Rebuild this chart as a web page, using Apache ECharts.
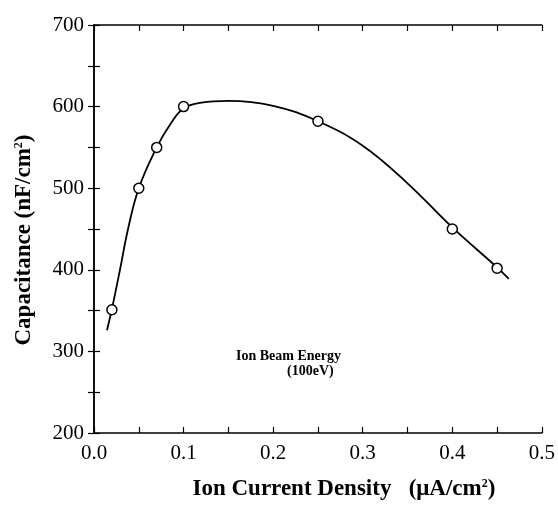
<!DOCTYPE html>
<html>
<head>
<meta charset="utf-8">
<script src="https://cdn.jsdelivr.net/npm/echarts@6/dist/echarts.min.js"></script>
<style>
  html, body { margin: 0; padding: 0; background: #fff; }
  #chartmain { width: 558px; height: 506px; }
</style>
</head>
<body>
<div id="chartmain"></div>
<script>
// measured points (open circles)
var density = [0.02, 0.05, 0.07, 0.1, 0.25, 0.4, 0.45];
var capacitance = [351, 500, 550, 600, 582, 450, 402];

// fitted curve
var fitX = [0.0145, 0.02, 0.029, 0.038, 0.05, 0.07, 0.085, 0.1, 0.12, 0.15, 0.2, 0.25, 0.3, 0.35, 0.4, 0.45, 0.463];
var fitY = [326, 352, 400, 450, 500, 550, 578, 598, 605, 607, 601, 582, 552, 506, 452, 403, 389];

var xTicks = ['0.0', '0.1', '0.2', '0.3', '0.4', '0.5'];
var yTicks = ['200', '300', '400', '500', '600', '700'];

var points = density.map(function (x, i) { return [x, capacitance[i]]; });
var curve = fitX.map(function (x, i) { return [x, fitY[i]]; });

var serif = '"Liberation Serif", "DejaVu Serif", serif';

var myChart = echarts.init(document.getElementById("chartmain"));

var baseAxis = {
    axisLine: { show: true, lineStyle: { color: '#000', width: 1.5 } },
    axisTick: { show: true, inside: true, length: 6, lineStyle: { color: '#000', width: 1.2 } },
    splitLine: { show: false }
};

// label only every other tick (ticks every 0.05 / 50)
function xLabel(v) {
    var k = Math.round(v * 20);
    return k % 2 === 0 ? xTicks[k / 2] : '';
}
function yLabel(v) {
    var k = Math.round((v - 200) / 50);
    return k % 2 === 0 ? yTicks[k / 2] : '';
}

var supStyle = { fontSize: 12, fontWeight: 'bold', fontFamily: serif, verticalAlign: 'top', padding: [0, 0, 9, 0] };

var option = {
    animation: false,
    grid: { left: 94, right: 16, top: 25, bottom: 69 },
    xAxis: [
        Object.assign({}, baseAxis, {
            type: 'value', min: 0, max: 0.5, interval: 0.05, position: 'bottom',
            axisLabel: {
                color: '#000', fontFamily: serif, fontSize: 21, margin: 10,
                formatter: xLabel
            },
            name: 'Ion Current Density   (μA/cm{sup|2})',
            nameLocation: 'middle', nameGap: 45,
            nameTextStyle: {
                color: '#000', fontFamily: serif, fontSize: 23, fontWeight: 'bold',
                padding: [0, 0, 0, 52],
                rich: { sup: supStyle }
            }
        }),
        Object.assign({}, baseAxis, {
            type: 'value', min: 0, max: 0.5, interval: 0.05, position: 'top',
            axisLabel: { show: false }
        })
    ],
    yAxis: [
        Object.assign({}, baseAxis, {
            type: 'value', min: 200, max: 700, interval: 50, position: 'left',
            axisLabel: {
                color: '#000', fontFamily: serif, fontSize: 21, margin: 10,
                formatter: yLabel
            },
            name: 'Capacitance (nF/cm{sup|2})',
            nameLocation: 'middle', nameGap: 58,
            nameTextStyle: {
                color: '#000', fontFamily: serif, fontSize: 23, fontWeight: 'bold',
                padding: [0, 22, 0, 0],
                rich: { sup: supStyle }
            }
        }),
        Object.assign({}, baseAxis, {
            type: 'value', min: 200, max: 700, interval: 50, position: 'right',
            axisLabel: { show: false }
        })
    ],
    graphic: [
        {
            type: 'text', left: 236, top: 349,
            style: { text: 'Ion Beam Energy', font: 'bold 14px ' + serif, fill: '#000' }
        },
        {
            type: 'text', left: 287, top: 364,
            style: { text: '(100eV)', font: 'bold 14px ' + serif, fill: '#000' }
        }
    ],
    series: [
        {
            name: 'fit',
            type: 'line',
            data: curve,
            smooth: 0.4,
            showSymbol: false,
            lineStyle: { color: '#000', width: 1.8 }
        },
        {
            name: 'data',
            type: 'line',
            data: points,
            lineStyle: { width: 0, opacity: 0 },
            symbol: 'circle',
            symbolSize: 10,
            itemStyle: { color: '#fff', borderColor: '#000', borderWidth: 1.5 },
            z: 5
        }
    ]
};

myChart.setOption(option);
</script>
</body>
</html>
